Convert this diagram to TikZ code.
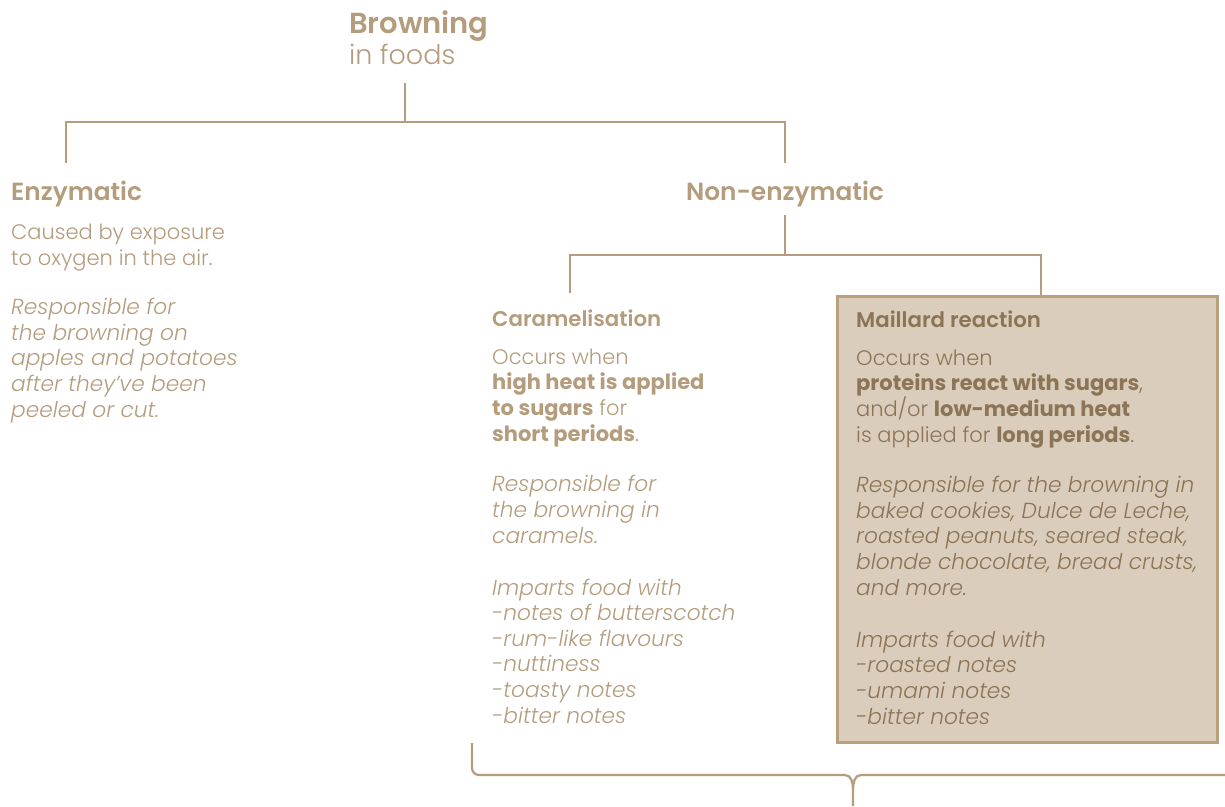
\documentclass[tikz,border=0pt]{standalone}
\usepackage{fontspec}
\setmainfont{Poppins Light}[BoldFont=Poppins SemiBold, ItalicFont=Poppins Light Italic, BoldItalicFont=Poppins SemiBold Italic]
\newfontfamily\boldtxt{Poppins Bold}
\newcommand{\bt}[1]{{\boldtxt #1}}
\definecolor{tan}{HTML}{B49C7C}
\definecolor{tandark}{HTML}{8C7456}
\definecolor{boxfill}{HTML}{DACDBB}
\definecolor{boxline}{HTML}{BBA07E}
\tikzset{
  conn/.style={draw=tan, line width=2.6pt},
  txt/.style={anchor=base west, inner sep=0pt, align=left, text=tan, font=\fontsize{21}{25.6}\selectfont},
  itxt/.style={txt, font=\fontsize{21.7}{25.6}\selectfont\itshape},
  head/.style={anchor=base west, inner sep=0pt, text=tan, font=\fontsize{24.8}{26}\selectfont\bfseries},
  sub/.style={anchor=base west, inner sep=0pt, font=\fontsize{21.3}{24}\selectfont\bfseries},
}
\begin{document}
\begin{tikzpicture}[x=1pt,y=-1pt]
\useasboundingbox (0,0) rectangle (1225,806);
% title
\node[anchor=base west, inner sep=0pt, text=tan, font=\fontsize{29}{30}\selectfont\bfseries] (title) at (349,33) {Browning};
\node[anchor=base west, inner sep=0pt, text=tan, font=\fontsize{27}{30}\selectfont] (subt) at (349,64) {in foods};
\coordinate (t0) at (405,83);
\coordinate (t1) at (405,122);
\coordinate (l1) at (66,122);
\coordinate (r1) at (785,122);
\coordinate (l2) at (66,163);
\coordinate (r2) at (785,163);
\draw[conn] (t0) -- (t1);
\draw[conn] (l2) -- (l1) -- (r1) -- (r2);
% Enzymatic
\node[head] (enz) at (11,200) {Enzymatic};
\node[txt] (enz1) at (11,265) {Caused by exposure\\to oxygen in the air.};
\node[itxt] (enz2) at (11,417) {Responsible for\\the browning on\\apples and potatoes\\after they’ve been\\peeled or cut.};
% Non-enzymatic
\node[head, anchor=base] (non) at (785,200) {Non-enzymatic};
\coordinate (n0) at (785,215);
\coordinate (n1) at (785,255);
\coordinate (cl) at (570,255);
\coordinate (cr) at (1041,255);
\coordinate (cl2) at (570,293);
\draw[conn] (n0) -- (n1);
% Maillard box
\node[draw=boxline, fill=boxfill, line width=2.8pt, minimum width=380pt, minimum height=446pt, anchor=north west, inner sep=0pt] (mbox) at (836,295) {};
\draw[conn] (cl2) -- (cl) -- (cr) -- (mbox.north -| cr);
% Caramelisation
\node[sub, text=tan] (car) at (492,326) {Caramelisation};
\node[txt] (car1) at (492,441) {Occurs when\\\bt{high heat is applied}\\\bt{to sugars} for\\\bt{short periods}.};
\node[itxt] (car2) at (492,543) {Responsible for\\the browning in\\caramels.};
\node[itxt] (car3) at (492,723) {Imparts food with\\-notes of butterscotch\\-rum-like flavours\\-nuttiness\\-toasty notes\\-bitter notes};
% Maillard
\node[sub, text=tandark] (mai) at (856,327) {Maillard reaction};
\node[txt, text=tandark] (mai1) at (856,442) {Occurs when\\\bt{proteins react with sugars},\\and/or \bt{low-medium heat}\\is applied for \bt{long periods}.};
\node[itxt, text=tandark] (mai2) at (856,595) {Responsible for the browning in\\baked cookies, Dulce de Leche,\\roasted peanuts, seared steak,\\blonde chocolate, bread crusts,\\and more.};
\node[itxt, text=tandark] (mai3) at (856,724) {Imparts food with\\-roasted notes\\-umami notes\\-bitter notes};
% brace
\coordinate (b0) at (472,743);
\coordinate (bt) at (853,806);
\coordinate (b2) at (1225,775);
\draw[draw=tan, line width=2.2pt, line join=round] (b0) -- (472,768) to[out=-90,in=180] (479,775) -- (845,775) to[out=0,in=90] (853,790) -- (bt);
\draw[draw=tan, line width=2.2pt, line join=round] (853,790) to[out=90,in=180] (861,775) -- (b2);
\end{tikzpicture}
\end{document}
